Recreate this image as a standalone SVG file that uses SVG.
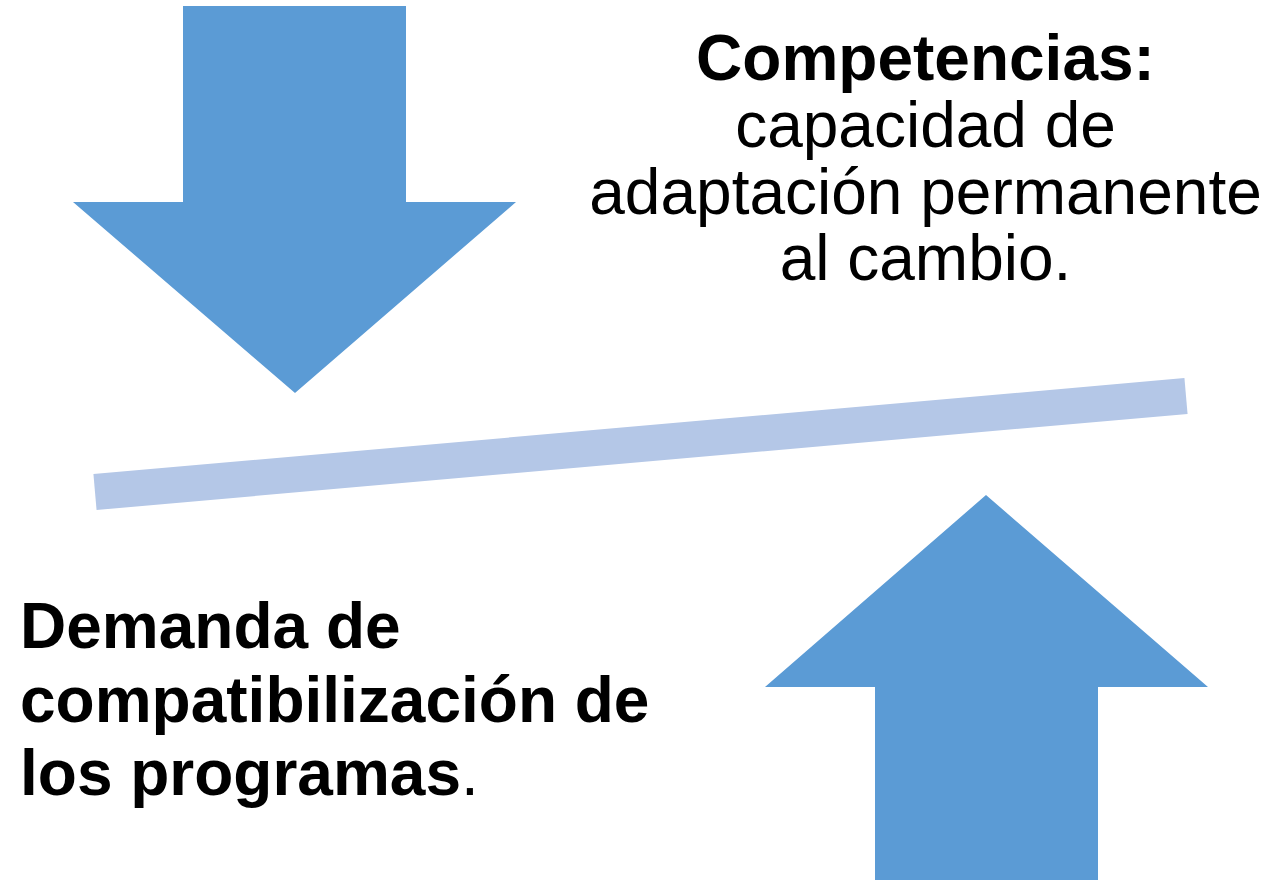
<svg xmlns="http://www.w3.org/2000/svg" width="1269" height="880" viewBox="0 0 1269 880">
<style>
.arrow{fill:#5B9BD5}
.bar{stroke:#B4C7E7;stroke-width:36;fill:none}
.t{font-family:"Liberation Sans",Arial,sans-serif;font-size:64px;fill:#000}
.c{text-anchor:middle}
.b{font-weight:bold}
</style>
<rect width="1269" height="880" fill="#fff"/>
<g id="arrow-down">
<polygon class="arrow" points="183,6 406,6 406,202 516,202 295,393 73,202 183,202"/>
</g>
<g id="arrow-up">
<polygon class="arrow" points="986,495 1208,687 1098,687 1098,880 875,880 875,687 765,687"/>
</g>
<g id="connectors">
<line class="bar" x1="95" y1="492" x2="1186" y2="396"/>
</g>
<g id="competencias">
<text class="t c b" x="925.5" y="80">Competencias:</text>
<text class="t c" x="925.5" y="147">capacidad de</text>
<text class="t c" x="925.5" y="214">adaptación permanente</text>
<text class="t c" x="925.5" y="280">al cambio.</text>
</g>
<g id="demanda">
<text class="t b" x="20" y="648">Demanda de</text>
<text class="t b" x="20" y="722">compatibilización de</text>
<text class="t b" x="20" y="795">los programas<tspan font-weight="normal">.</tspan></text>
</g>
</svg>
